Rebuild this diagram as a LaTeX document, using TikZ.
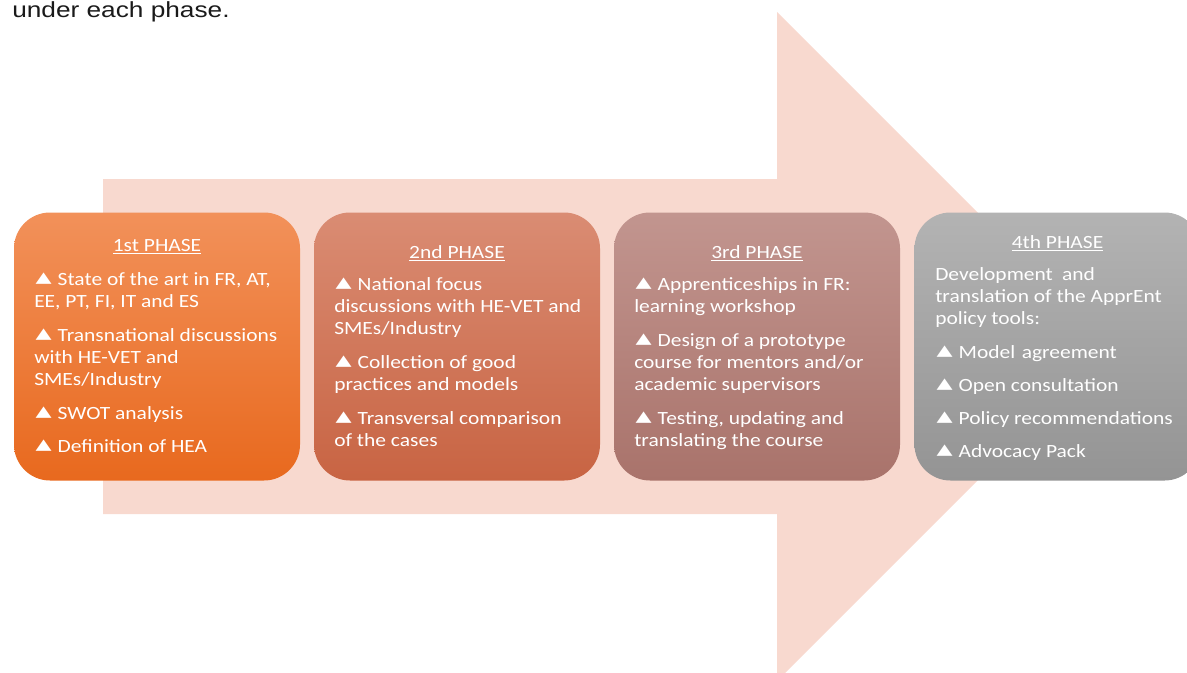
\documentclass[tikz,border=0pt]{standalone}
\usepackage{fontspec}
\setmainfont{Carlito}[FakeStretch=1.15]
\newfontfamily\arialfont{Liberation Sans}[FakeStretch=1.2]
\newfontfamily\dejavufont{DejaVu Sans}[FakeStretch=1.4]
\definecolor{arrowc}{HTML}{F8D9CF}
\definecolor{oTop}{HTML}{F2915A}
\definecolor{oBot}{HTML}{E8691E}
\definecolor{rTop}{HTML}{DA8C73}
\definecolor{rBot}{HTML}{C86443}
\definecolor{mTop}{HTML}{C2958F}
\definecolor{mBot}{HTML}{A9736B}
\definecolor{gTop}{HTML}{B3B3B3}
\definecolor{gBot}{HTML}{949494}
\definecolor{introc}{HTML}{1A1A1A}
\newcommand{\tri}{\hspace{1pt}\raisebox{2pt}{\dejavufont\fontsize{11.2pt}{11.2pt}\selectfont ▲}\hspace{4.5pt}}
\begin{document}
\begin{tikzpicture}[x=0.75pt,y=-0.75pt,
  ln/.style={anchor=base west, inner sep=0pt, text=white, font=\fontsize{14pt}{16.5pt}\selectfont},
  hd/.style={anchor=base, inner sep=0pt, text=white, font=\fontsize{14pt}{16.5pt}\selectfont},
  phasebox/.style={rounded corners=27pt, minimum width=214.5pt, minimum height=201pt, inner sep=0pt}]
\useasboundingbox (0,0) rectangle (1187,672);
\clip (0,0) rectangle (1187,672);
\fill[arrowc] (103,179) -- (777,179) -- (777,12) -- (1111.5,346.5) -- (777,681) -- (777,514) -- (103,514) -- cycle;
\node[anchor=base west, inner sep=0pt, text=introc, font=\arialfont\fontsize{16.4pt}{16.4pt}\selectfont] (intro) at (12,17) {under each phase.};
\node[phasebox, top color=oTop, bottom color=oBot] (b1) at (157,346.5) {};
\node[phasebox, top color=rTop, bottom color=rBot] (b2) at (457,346.5) {};
\node[phasebox, top color=mTop, bottom color=mBot] (b3) at (757,346.5) {};
\node[phasebox, top color=gTop, bottom color=gBot] (b4) at (1057.5,346.5) {};
\node[hd] (h1) at (157,251) {\underline{1st PHASE}};
\node[hd] (h2) at (457,258) {\underline{2nd PHASE}};
\node[hd] (h3) at (757,258) {\underline{3rd PHASE}};
\node[hd] (h4) at (1057.5,248) {\underline{4th PHASE}};
\foreach \n/\yy/\t in {1/285/{\tri State of the art in FR, AT,}, 2/307/{EE, PT, FI, IT and ES}, 3/341/{\tri Transnational discussions}, 4/363/{with HE-VET and}, 5/385/{SMEs/Industry}, 6/419/{\tri SWOT analysis}, 7/452/{\tri Definition of HEA}}
  \node[ln] (ta\n) at (34,\yy) {\t};
\foreach \n/\yy/\t in {1/290/{\tri National focus}, 2/312/{discussions with HE-VET and}, 3/334/{SMEs/Industry}, 4/368/{\tri Collection of good}, 5/390/{practices and models}, 6/424/{\tri Transversal comparison}, 7/446/{of the cases}}
  \node[ln] (tb\n) at (334,\yy) {\t};
\foreach \n/\yy/\t in {1/290/{\tri Apprenticeships in FR:}, 2/312/{learning workshop}, 3/346/{\tri Design of a prototype}, 4/368/{course for mentors and/or}, 5/390/{academic supervisors}, 6/424/{\tri Testing, updating and}, 7/446/{translating the course}}
  \node[ln] (tc\n) at (634,\yy) {\t};
\foreach \n/\yy/\t in {1/280/{Development\hspace{0.5em}and}, 2/302/{translation of the ApprEnt}, 3/324/{policy tools:}, 4/358/{\tri Model\hspace{0.35em}agreement}, 5/391/{\tri Open consultation}, 6/424/{\tri Policy recommendations}, 7/457/{\tri Advocacy Pack}}
  \node[ln] (td\n) at (935,\yy) {\t};
\end{tikzpicture}
\end{document}
